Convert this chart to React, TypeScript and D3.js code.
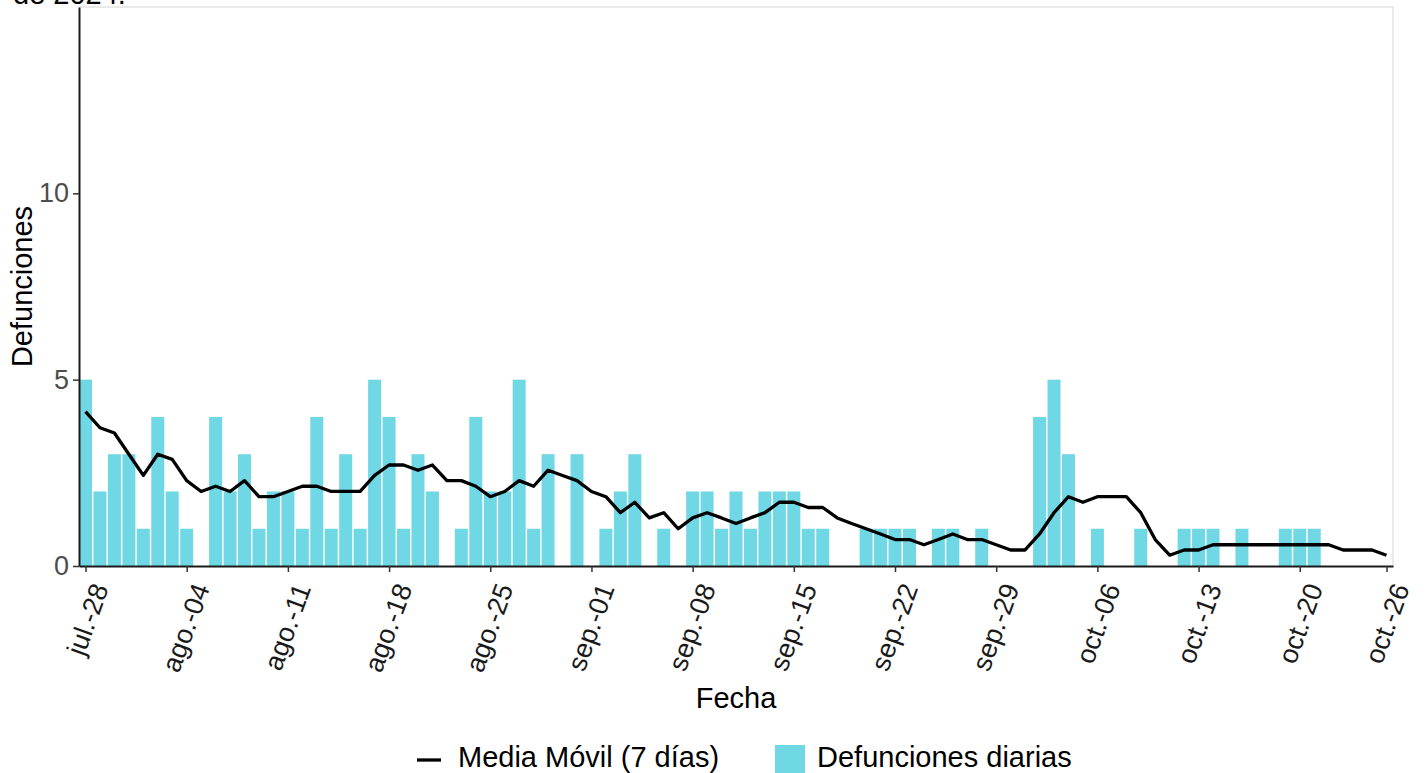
import React, { useRef, useEffect } from "react";
import { select, scaleUtc, scaleLinear, line, axisBottom, axisLeft } from "d3";

const startDate = Date.UTC(2024, 6, 28); // jul 28 2024
const dayMs = 86400000;

// daily deaths, jul-28 .. oct-26
const dailyDeaths = [
  5, 2, 3, 3, 1, 4, 2, 1, 0, 4, 2, 3, 1, 2, 2, 1, 4, 1, 3, 1, 5, 4, 1, 3, 2, 0, 1, 4, 2, 2, 5, 1, 3,
  0, 3, 0, 1, 2, 3, 0, 1, 0, 2, 2, 1, 2, 1, 2, 2, 2, 1, 1, 0, 0, 1, 1, 1, 1, 0, 1, 1, 0, 1, 0, 0, 0,
  4, 5, 3, 0, 1, 0, 0, 1, 0, 0, 1, 1, 1, 0, 1, 0, 0, 1, 1, 1, 0, 0, 0, 0, 0,
];

// 7-day moving average, same days
const movingAvg = [
  4.14, 3.71, 3.57, 3.0, 2.43, 3.0, 2.86, 2.29, 2.0, 2.14, 2.0, 2.29, 1.86, 1.86, 2.0, 2.14, 2.14,
  2.0, 2.0, 2.0, 2.43, 2.71, 2.71, 2.57, 2.71, 2.29, 2.29, 2.14, 1.86, 2.0, 2.29, 2.14, 2.57,
  2.43, 2.29, 2.0, 1.86, 1.43, 1.71, 1.29, 1.43, 1.0, 1.29, 1.43, 1.29, 1.14, 1.29, 1.43, 1.71,
  1.71, 1.57, 1.57, 1.29, 1.14, 1.0, 0.86, 0.71, 0.71, 0.57, 0.71, 0.86, 0.71, 0.71, 0.57, 0.43,
  0.43, 0.86, 1.43, 1.86, 1.71, 1.86, 1.86, 1.86, 1.43, 0.71, 0.29, 0.43, 0.43, 0.57, 0.57, 0.57,
  0.57, 0.57, 0.57, 0.57, 0.57, 0.57, 0.43, 0.43, 0.43, 0.29,
];

const tickDays = [
  "2024-07-28", "2024-08-04", "2024-08-11", "2024-08-18", "2024-08-25", "2024-09-01", "2024-09-08",
  "2024-09-15", "2024-09-22", "2024-09-29", "2024-10-06", "2024-10-13", "2024-10-20", "2024-10-26",
];
const tickLabels = [
  "jul.-28", "ago.-04", "ago.-11", "ago.-18", "ago.-25", "sep.-01", "sep.-08",
  "sep.-15", "sep.-22", "sep.-29", "oct.-06", "oct.-13", "oct.-20", "oct.-26",
];
const yTicks = [0, 5, 10];
const legendLabels = ["Media Móvil (7 días)", "Defunciones diarias"];

const W = 1426;
const H = 773;
const FONT = "'Liberation Sans', Arial, Helvetica, sans-serif";
const BAR_COLOR = "#70D8E4";

export default function App() {
  const svgRef = useRef<SVGSVGElement>(null);

  useEffect(() => {
    const svg = select(svgRef.current!);
    svg.selectAll("*").remove();

    const margin = { top: 7, right: 33, bottom: 207, left: 79 };
    const dates = dailyDeaths.map((_, i) => new Date(startDate + i * dayMs));

    const x = scaleUtc()
      .domain([
        new Date(startDate - 0.45 * dayMs),
        new Date(startDate + (dates.length - 1 + 0.45) * dayMs),
      ])
      .range([margin.left, W - margin.right]);

    const y = scaleLinear()
      .domain([0, 15])
      .range([H - margin.bottom, margin.top]);

    const g = svg.append("g");

    // light panel border (top + right)
    g.append("path")
      .attr(
        "d",
        `M${margin.left},${margin.top}H${W - margin.right}V${H - margin.bottom}`
      )
      .attr("fill", "none")
      .attr("stroke", "#E3E3E3")
      .attr("stroke-width", 1.5);

    // bars
    g.selectAll(".bar")
      .data(dailyDeaths)
      .join("rect")
      .attr("class", "bar")
      .attr("x", (_, i) => x(new Date(dates[i].getTime() - 0.45 * dayMs)))
      .attr("width", (_, i) =>
        x(new Date(dates[i].getTime() + 0.45 * dayMs)) - x(new Date(dates[i].getTime() - 0.45 * dayMs))
      )
      .attr("y", (d) => y(d))
      .attr("height", (d) => y(0) - y(d))
      .attr("fill", BAR_COLOR);

    // moving average line
    const avgLine = line<number>()
      .x((_, i) => x(dates[i]))
      .y((d) => y(d));

    g.append("path")
      .datum(movingAvg)
      .attr("fill", "none")
      .attr("stroke", "black")
      .attr("stroke-width", 3.3)
      .attr("stroke-linejoin", "round")
      .attr("d", avgLine);

    // x axis
    const xAxis = axisBottom(x)
      .tickValues(tickDays.map((d) => new Date(d + "T00:00:00Z")))
      .tickFormat((_, i) => tickLabels[i])
      .tickSize(6)
      .tickSizeOuter(0);

    const xg = g
      .append("g")
      .attr("transform", `translate(0, ${H - margin.bottom})`)
      .call(xAxis);
    xg.select(".domain").attr("stroke", "#1a1a1a").attr("stroke-width", 2);
    xg.selectAll(".tick line").attr("stroke", "#333").attr("stroke-width", 1.5);
    xg.selectAll(".tick text")
      .attr("x", 0)
      .attr("y", 0)
      .attr("dy", null)
      .attr("text-anchor", "end")
      .attr("transform", "translate(23, 22) rotate(-70)")
      .attr("fill", "#1a1a1a")
      .style("font-size", "27px")
      .style("font-family", FONT);

    // y axis
    const yAxis = axisLeft(y).tickValues(yTicks).tickSize(6).tickPadding(4).tickSizeOuter(0);
    const yg = g
      .append("g")
      .attr("transform", `translate(${margin.left}, 0)`)
      .call(yAxis);
    yg.select(".domain").attr("stroke", "#1a1a1a").attr("stroke-width", 2);
    yg.selectAll(".tick line").attr("stroke", "#333").attr("stroke-width", 1.5);
    yg.selectAll(".tick text")
      .attr("fill", "#4D4D4D")
      .style("font-size", "27px")
      .style("font-family", FONT);

    // axis titles
    g.append("text")
      .attr("x", (margin.left + W - margin.right) / 2)
      .attr("y", 708)
      .attr("text-anchor", "middle")
      .style("font-size", "29px")
      .style("font-family", FONT)
      .text("Fecha");

    g.append("text")
      .attr("transform", `translate(32, ${(margin.top + H - margin.bottom) / 2}) rotate(-90)`)
      .attr("text-anchor", "middle")
      .style("font-size", "29px")
      .style("font-family", FONT)
      .text("Defunciones");

    // title (cut at top of the image, as in the reference)
    g.append("text")
      .attr("x", 13)
      .attr("y", 4)
      .style("font-size", "29px")
      .style("font-family", FONT)
      .text("de 2024.");

    // legend
    const legend = g.append("g");
    legend
      .append("line")
      .attr("x1", 417)
      .attr("x2", 441)
      .attr("y1", 760)
      .attr("y2", 760)
      .attr("stroke", "black")
      .attr("stroke-width", 3.3);
    legend
      .append("text")
      .attr("x", 458)
      .attr("y", 767)
      .style("font-size", "29px")
      .style("font-family", FONT)
      .text(legendLabels[0]);
    legend
      .append("rect")
      .attr("x", 775)
      .attr("y", 745)
      .attr("width", 30)
      .attr("height", 30)
      .attr("fill", BAR_COLOR);
    legend
      .append("text")
      .attr("x", 817)
      .attr("y", 767)
      .style("font-size", "29px")
      .style("font-family", FONT)
      .text(legendLabels[1]);
  }, []);

  return (
    <svg
      ref={svgRef}
      width={W}
      height={H}
      style={{ position: "absolute", left: 0, top: 0, background: "white" }}
    />
  );
}
